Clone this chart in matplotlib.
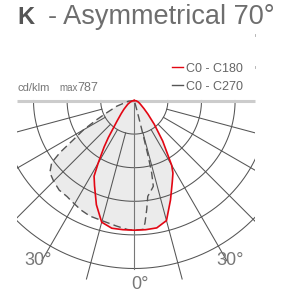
import numpy as np
import matplotlib
matplotlib.use('Agg')
import matplotlib.pyplot as plt
from matplotlib.patches import Rectangle

# ---- data (cd/klm, angle in degrees from nadir; negative = left) ----
red_angles = [-90, -80, -70, -60, -50, -45, -40, -35, -33, -30, -28, -25, -20, -15, -10, -5,
              0, 5, 10, 15, 20, 25, 28, 30, 35, 40, 45, 50, 60, 70, 80, 90]
red_values = [0, 10, 25, 45, 80, 110, 160, 270, 330, 430, 510, 560, 660, 750, 772, 772,
              772, 772, 770, 740, 630, 535, 490, 445, 295, 185, 115, 75, 40, 25, 12, 0]

dash_angles = [-90, -83, -72, -66, -63, -60, -57, -55, -53, -49.5, -45, -40, -35, -32, -26, -21,
               -14, -8, -3, 0, 4, 5, 6.5, 8, 11, 12.5, 13.5, 14, 14.3, 14.6, 15, 17, 90]
dash_values = [0, 36, 110, 180, 250, 349, 440, 540, 616, 661, 679, 696, 698, 706, 725, 737,
               742, 755, 769, 772, 769, 731, 653, 576, 540, 523, 443, 342, 220, 137, 55, 0, 0]

grid_radii = [200, 400, 600, 800, 1000]
grid_angles = [-75, -60, -45, -30, -15, 15, 30, 45, 60, 75]
max_value = 787
legend_labels = ['C0 - C180', 'C0 - C270']
angle_labels = ['30°', '30°', '0°']

W, H = 284, 293
fig = plt.figure(figsize=(W / 100, H / 100), dpi=100)
ax = fig.add_axes([0, 0, 1, 1])
S = 0.168          # px per cd/klm
cx, cy = 134.3, 100.5
ax.set_xlim(-cx / S, (W - cx) / S)
ax.set_ylim(-(H - cy) / S, cy / S)
ax.axis('off')

def polar_xy(angles, values):
    a = np.radians(np.asarray(angles, float))
    v = np.asarray(values, float)
    return v * np.sin(a), -v * np.cos(a)

GRID = '#555555'
clip = Rectangle((-117.5 / S, -1100), (117.5 + 120.5) / S, 1110,
                 transform=ax.transData, facecolor='none', edgecolor='none')

# fill
for ang, val in [(red_angles, red_values), (dash_angles, dash_values)]:
    x, y = polar_xy(ang, val)
    ax.fill(x, y, color='#ebebeb', lw=0, zorder=1)

# grid circles
t = np.linspace(-90, 90, 361)
for r in grid_radii:
    x, y = polar_xy(t, np.full_like(t, r))
    ln, = ax.plot(x, y, color=GRID, lw=0.75, zorder=2)
    ln.set_clip_path(clip)
# radial lines
for a in grid_angles:
    x, y = polar_xy([a, a], [grid_radii[0], 1100])
    ln, = ax.plot(x, y, color=GRID, lw=0.75, zorder=2)
    ln.set_clip_path(clip)
x, y = polar_xy([0, 0], [0, grid_radii[-1]])
ax.plot(x, y, color='#777777', lw=0.8, zorder=2)
# horizon line
ax.plot([-117.5 / S, 120.5 / S], [0, 0], color='#cccccc', lw=2.2, zorder=3,
        solid_capstyle='butt')

# curves
x, y = polar_xy(dash_angles, dash_values)
ax.plot(x, y, color='#555555', lw=1.0, dashes=(5.5, 3), zorder=4)
x, y = polar_xy(red_angles, red_values)
ax.plot(x, y, color='#e30613', lw=1.2, zorder=5)

def fx(px): return px / W
def fy(py): return 1 - py / H

# title
fig.text(fx(17.5), fy(24.5), 'K', fontsize=17, fontweight='bold', color='#555555',
         family='Liberation Sans', va='baseline')
fig.text(fx(47.5), fy(24.5), '- Asymmetrical 70°', fontsize=19.5, color='#6e6e6e',
         family='Liberation Sans', va='baseline')

# units / max
narrow = ['Liberation Sans Narrow', 'Liberation Sans']
fig.text(fx(17), fy(91), 'cd/klm', fontsize=8, color='#777777', family=narrow, va='baseline')
fig.text(fx(59.5), fy(91), 'max', fontsize=7, color='#777777', family=narrow, va='baseline')
fig.text(fx(77.5), fy(91), f'{max_value}', fontsize=9, color='#777777', family=narrow, va='baseline')

# legend
for i, (lab, col) in enumerate(zip(legend_labels, ['#e30613', '#555555'])):
    ly = 67 + i * 17.5
    fig.lines.append(plt.Line2D([fx(172), fx(183)], [fy(ly), fy(ly)], color=col, lw=1.0,
                                transform=fig.transFigure))
    fig.text(fx(186.5), fy(ly + 5), lab, fontsize=9, color='#666666', family=narrow,
             va='baseline')

# small marks on the right
for my in (34.5, 66.5):
    fig.lines.append(plt.Line2D([fx(254.5), fx(254.5)], [fy(my - 1), fy(my + 1)],
                                color='#aaaaaa', lw=0.6, transform=fig.transFigure))

# angle labels
fig.text(fx(38), fy(265), angle_labels[0], fontsize=13, color='#777777',
         family='Liberation Sans', ha='center', va='baseline')
fig.text(fx(230), fy(265), angle_labels[1], fontsize=13, color='#777777',
         family='Liberation Sans', ha='center', va='baseline')
fig.text(fx(140), fy(289), angle_labels[2], fontsize=13, color='#777777',
         family='Liberation Sans', ha='center', va='baseline')

fig.savefig('out.png', dpi=100)
